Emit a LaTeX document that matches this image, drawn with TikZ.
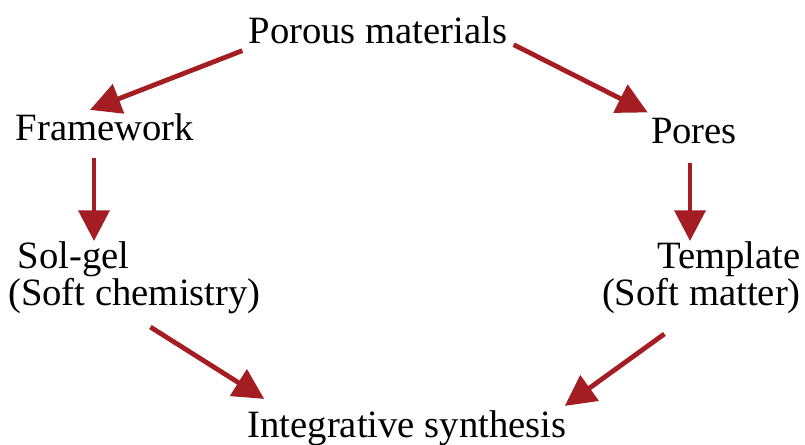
\documentclass[tikz,border=0pt]{standalone}
\usepackage{fontspec}
\setmainfont{Liberation Serif}
\usetikzlibrary{arrows.meta}

\definecolor{arrowred}{RGB}{163,29,35}

\begin{document}
\begin{tikzpicture}[x=0.75pt, y=-0.75pt,
    every node/.style={font=\fontsize{29}{28}\selectfont, inner sep=0pt},
    arr/.style={draw=arrowred, line width=3.6pt, -{Triangle[length=23pt,width=23pt]}}]
    \useasboundingbox (0,0) rectangle (805,444);
    \node[anchor=base] (porous) at (378,43) {Porous materials};
    \node[anchor=base] (frame) at (105,140) {Framework};
    \node[anchor=base] (pores) at (694,143) {Pores};
    \node[anchor=north west, align=left] (solgel) at (8,241) {\hspace*{7pt}Sol-gel\\(Soft chemistry)};
    \node[anchor=north east, align=right] (templ) at (801,241) {Template\\(Soft matter)};
    \node[anchor=base] (integ) at (407,437) {Integrative synthesis};
    \draw[arr] ([shift={(-6,7)}]porous.south west) -- ([shift={(-15,-3)}]frame.north);
    \draw[arr] ([shift={(6,1)}]porous.south east) -- ([shift={(-3,-5)}]pores.north west);
    \draw[arr] ([shift={(-11,17)}]frame.south) -- ([shift={(-11,0)}]frame.south |- solgel.north);
    \draw[arr] ([shift={(-4,19)}]pores.south) -- ([shift={(-4,0)}]pores.south |- templ.north);
    \draw[arr] ([shift={(16,13)}]solgel.south) -- ([shift={(17,-11)}]integ.north west);
    \draw[arr] ([shift={(-37,20)}]templ.south) -- ([shift={(-2,-4)}]integ.north east);
\end{tikzpicture}
\end{document}
